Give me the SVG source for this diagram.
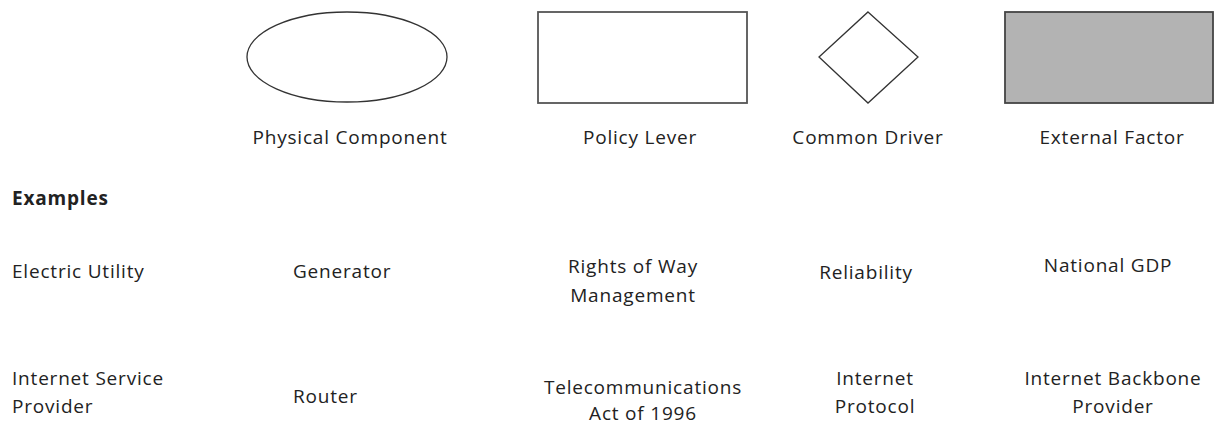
<svg xmlns="http://www.w3.org/2000/svg" width="1216" height="425" viewBox="0 0 1216 425">
<style>
text{font-family:"Open Sans","Noto Sans","Liberation Sans",sans-serif;font-size:19px;fill:#222;letter-spacing:0.8px}
.c{text-anchor:middle}
.b{font-weight:bold}
.shape{fill:#fff;stroke:#333;stroke-width:1.3}
.ext{fill:#b3b3b3;stroke:#444;stroke-width:1.8}
.box{fill:#fff;stroke:#555;stroke-width:1.8}
</style>
<rect width="1216" height="425" fill="#fff"/>
<g id="legend-physical">
<ellipse class="shape" cx="347" cy="57" rx="100" ry="45"/>
<text class="c" x="350" y="144">Physical Component</text>
</g>
<g id="legend-policy">
<rect class="box" x="538" y="12" width="209" height="91"/>
<text class="c" x="640" y="144">Policy Lever</text>
</g>
<g id="legend-driver">
<polygon class="shape" points="868,12 918,57 868,103 819,57"/>
<text class="c" x="868" y="144">Common Driver</text>
</g>
<g id="legend-external">
<rect class="ext" x="1005" y="12" width="208" height="91"/>
<text class="c" x="1112" y="144">External Factor</text>
</g>
<g id="examples-heading">
<text class="b" x="12" y="205">Examples</text>
</g>
<g id="row-electric">
<text x="12" y="278">Electric Utility</text>
<text x="293" y="278">Generator</text>
<text class="c" x="633" y="273">Rights of Way</text>
<text class="c" x="633" y="302">Management</text>
<text class="c" x="866" y="279">Reliability</text>
<text class="c" x="1108" y="272">National GDP</text>
</g>
<g id="row-isp">
<text x="12" y="385">Internet Service</text>
<text x="12" y="413">Provider</text>
<text x="293" y="403">Router</text>
<text class="c" x="643" y="394">Telecommunications</text>
<text class="c" x="643" y="420">Act of 1996</text>
<text class="c" x="875" y="385">Internet</text>
<text class="c" x="875" y="413">Protocol</text>
<text class="c" x="1113" y="385">Internet Backbone</text>
<text class="c" x="1113" y="413">Provider</text>
</g>
</svg>
